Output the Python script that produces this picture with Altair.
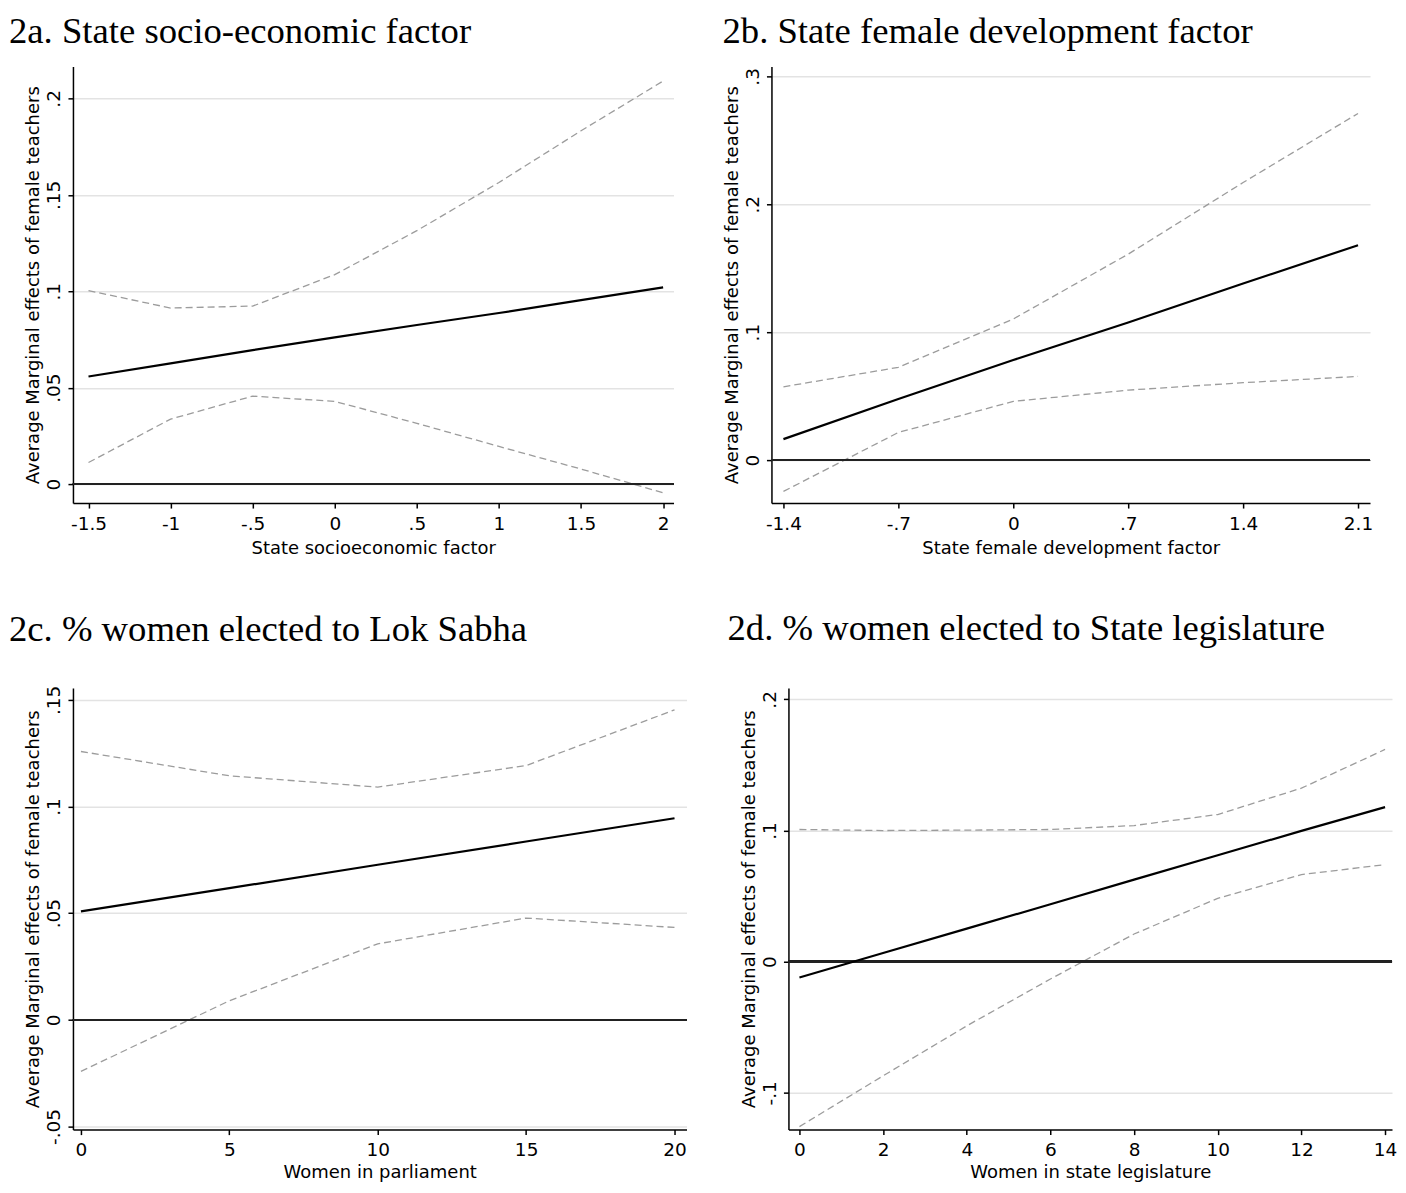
import altair as alt
import pandas as pd

# ---------------- data ----------------
a_x = [-1.5, -1, -0.5, 0, 0.5, 1, 1.5, 2]
a_est = [0.0558, 0.0626, 0.0695, 0.0761, 0.0825, 0.0887, 0.0954, 0.1020]
a_hi = [0.1003, 0.0913, 0.0923, 0.1086, 0.1314, 0.1564, 0.1832, 0.2090]
a_lo = [0.0112, 0.0337, 0.0456, 0.0429, 0.0315, 0.0195, 0.0078, -0.0045]

b_x = [-1.4, -0.7, 0, 0.7, 1.4, 2.1]
b_est = [0.0164, 0.0477, 0.0782, 0.1076, 0.1380, 0.1680]
b_hi = [0.0573, 0.0725, 0.1103, 0.1610, 0.2170, 0.2710]
b_lo = [-0.0245, 0.0216, 0.0459, 0.0547, 0.0605, 0.0654]

c_x = [0, 5, 10, 15, 20]
c_est = [0.0508, 0.0617, 0.0727, 0.0836, 0.0945]
c_hi = [0.1258, 0.1144, 0.1091, 0.1192, 0.1453]
c_lo = [-0.0242, 0.0089, 0.0356, 0.0477, 0.0433]

d_x = [0, 2, 4, 6, 8, 10, 12, 14]
d_est = [-0.0120, 0.0066, 0.0252, 0.0438, 0.0626, 0.0812, 0.0997, 0.1178]
d_hi = [0.1008, 0.1000, 0.1003, 0.1008, 0.1038, 0.1122, 0.1323, 0.1618]
d_lo = [-0.1257, -0.0870, -0.0489, -0.0132, 0.0211, 0.0483, 0.0664, 0.0740]

a_xticks = [-1.5, -1, -0.5, 0, 0.5, 1, 1.5, 2]
a_yticks = [0, 0.05, 0.1, 0.15, 0.2]
b_xticks = [-1.4, -0.7, 0, 0.7, 1.4, 2.1]
b_yticks = [0, 0.1, 0.2, 0.3]
c_xticks = [0, 5, 10, 15, 20]
c_yticks = [-0.05, 0, 0.05, 0.1, 0.15]
d_xticks = [0, 2, 4, 6, 8, 10, 12, 14]
d_yticks = [-0.1, 0, 0.1, 0.2]

titles = [
    "2a. State socio-economic factor",
    "2b. State female development factor",
    "2c. % women elected to Lok Sabha",
    "2d. % women elected to State legislature",
]
xtitles = [
    "State socioeconomic factor",
    "State female development factor",
    "Women in parliament",
    "Women in state legislature",
]
ytitle = "Average Marginal effects of female teachers"

SANS = "DejaVu Sans"
SERIF = "Liberation Serif"

LABEL_EXPR = (
    "datum.value == 0 ? '0' : (abs(datum.value) < 1 ? "
    "(datum.value < 0 ? '-' : '') + substring(toString(abs(datum.value)), 1) "
    ": toString(datum.value))"
)

common_axis = dict(
    domainColor="black", domainWidth=1.5,
    tickColor="black", tickWidth=1.5, tickSize=5,
    labelColor="black", titleColor="black",
    labelFont=SANS, labelFontSize=18.5,
    titleFont=SANS, titleFontSize=18, titleFontWeight="normal",
    labelExpr=LABEL_EXPR, labelOverlap=False, labelFlush=False,
)


def panel(title, dx, toff, xs, est, hi, lo, xdom, ydom, xticks, yticks, xtitle, w, h, xtp):
    n = len(xs)
    df = pd.DataFrame({
        "x": list(xs) * 3,
        "v": list(est) + list(hi) + list(lo),
        "s": ["est"] * n + ["hi"] * n + ["lo"] * n,
    })
    xenc = alt.X(
        "x:Q",
        scale=alt.Scale(domain=xdom, nice=False, zero=False),
        axis=alt.Axis(values=xticks, title=xtitle, grid=False,
                      labelPadding=6, titlePadding=xtp, **common_axis),
    )
    yenc = alt.Y(
        "v:Q",
        scale=alt.Scale(domain=ydom, nice=False, zero=False),
        axis=alt.Axis(values=yticks, title=ytitle, grid=True,
                      gridColor="#e3e3e3", gridWidth=1.5,
                      labelAngle=270, labelAlign="center", labelBaseline="alphabetic",
                      labelPadding=8, titlePadding=2, **common_axis),
    )
    base = alt.Chart(df)
    ci = base.transform_filter("datum.s != 'est'").mark_line(
        color="#9c9c9c", strokeWidth=1.3, strokeDash=[7, 4]
    ).encode(x=xenc, y=yenc, detail="s:N")
    zero = base.mark_rule(color="#222222", strokeWidth=1.8).encode(y=alt.Y(datum=0))
    line = base.transform_filter("datum.s == 'est'").mark_line(
        color="black", strokeWidth=2.2
    ).encode(x="x:Q", y="v:Q")
    return alt.layer(ci, zero, line).properties(
        width=w, height=h,
        title=alt.TitleParams(
            text=title, font=SERIF, fontSize=36.7, fontWeight="normal",
            color="black", anchor="start", frame="group", dx=dx,
            offset=toff, baseline="alphabetic",
        ),
    )


pa = panel(titles[0], -64, -13, a_x, a_est, a_hi, a_lo, [-1.5947, 2.0633], [-0.00984, 0.2166],
           a_xticks, a_yticks, xtitles[0], 601, 437, 7)
pb = panel(titles[1], -49, -13, b_x, b_est, b_hi, b_lo, [-1.473, 2.173], [-0.0336, 0.3078],
           b_xticks, b_yticks, xtitles[1], 599, 437, 7)
pc = panel(titles[2], -64, 8, c_x, c_est, c_hi, c_lo, [-0.269, 20.404], [-0.0515, 0.1556],
           c_xticks, c_yticks, xtitles[2], 614, 442, 4)
pd_ = panel(titles[3], -61, 11, d_x, d_est, d_hi, d_lo, [-0.263, 14.166], [-0.128, 0.2087],
            d_xticks, d_yticks, xtitles[3], 604, 442, 4)

row1 = alt.hconcat(pa, pb, spacing=98, bounds="flush")
row2 = alt.hconcat(pc, pd_, spacing=102, bounds="flush")

chart = alt.vconcat(row1, row2, spacing=52).properties(
    padding={"left": 0, "top": 4, "right": 0, "bottom": 0},
    background="white",
).configure_view(stroke="transparent")

chart.save("out.html", embed_options={"renderer": "svg", "actions": False})
